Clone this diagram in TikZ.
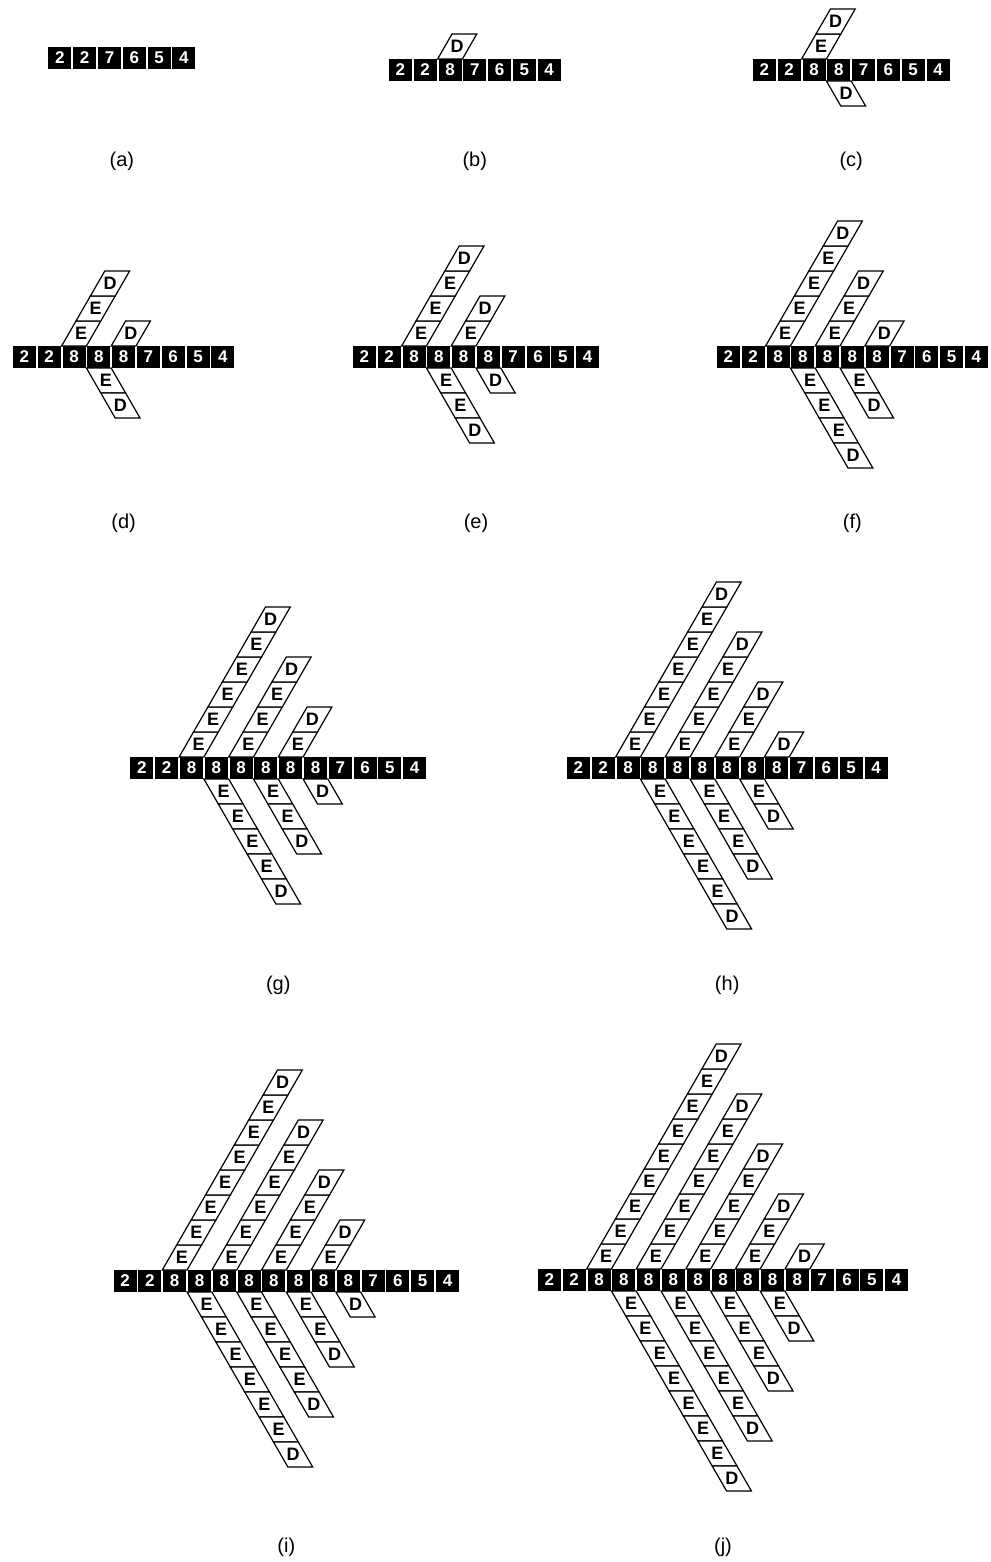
\documentclass[tikz,border=0pt]{standalone}
\usepackage{fontspec}
\setmainfont{Liberation Sans}
\usepackage{tikz}

% cell pitch, row height, tile height and tile slant (1 unit = 1 pixel)
\def\cellw{24.8}
\def\cellh{22}
\def\tileh{25}
\def\tileslant{14.4}

% #1 name, #2 left x, #3 row centre y, #4 number of eights, #5 caption y
\newcommand{\drawpanel}[5]{%
\begin{scope}[shift={(#2,#3)}]
  \pgfmathtruncatemacro{\lastcell}{#4+5}
  \foreach \i in {0,...,\lastcell}{
    \pgfmathtruncatemacro{\dig}{\i<2 ? 2 : (\i<#4+2 ? 8 : 9+#4-\i)}
    \node[cell] (#1-\i) at ({(\i+0.5)*\cellw},0) {\dig};
  }
  \ifnum#4>0
  \pgfmathtruncatemacro{\lastcol}{#4-1}
  \foreach \j in {0,...,\lastcol}{
    \pgfmathtruncatemacro{\len}{#4-\j}
    \pgfmathtruncatemacro{\dir}{mod(\j,2)==0 ? -1 : 1}
    \pgfmathsetmacro{\xo}{(2+\j)*\cellw}
    \pgfmathsetmacro{\yo}{\dir*\cellh/2}
    \foreach \m in {1,...,\len}{
      \pgfmathsetmacro{\xa}{\xo+(\m-1)*\tileslant}
      \pgfmathsetmacro{\ya}{\yo+\dir*(\m-1)*\tileh}
      \draw[tile] (\xa,\ya) -- ++(\cellw,0) -- ++(\tileslant,{\dir*\tileh})
        -- ++(-\cellw,0) -- cycle;
      \node[letter] (#1-\j-\m) at ({\xa+\tileslant/2+\cellw/2},{\ya+\dir*\tileh/2})
        {\ifnum\m=\len D\else E\fi};
    }
  }
  \fi
  \node[caption] (#1-cap) at ({(#4+6)*\cellw/2},{#5-#3}) {(#1)};
\end{scope}
}

\begin{document}
\begin{tikzpicture}[
  x=1pt, y=-1pt,
  cell/.style={fill=black,text=white,inner sep=0pt,minimum width=23pt,minimum height=\cellh pt,
    font=\fontsize{17}{17}\selectfont\bfseries},
  tile/.style={draw=black,fill=white,line width=1.2pt,line join=miter},
  letter/.style={inner sep=0pt,font=\fontsize{18}{18}\selectfont\bfseries},
  caption/.style={inner sep=0pt,font=\fontsize{20}{20}\selectfont}
]
\useasboundingbox (0,0) rectangle (990,1562);
\drawpanel{a}{47.5}{58}{0}{161}
\drawpanel{b}{388}{70}{1}{161}
\drawpanel{c}{752}{70}{2}{161}
\drawpanel{d}{12}{357}{3}{523}
\drawpanel{e}{352}{357}{4}{523}
\drawpanel{f}{716}{357}{5}{523}
\drawpanel{g}{129.5}{768}{6}{985}
\drawpanel{h}{566}{768}{7}{985}
\drawpanel{i}{112.7}{1281}{8}{1547}
\drawpanel{j}{537}{1280}{9}{1547}
\end{tikzpicture}
\end{document}
